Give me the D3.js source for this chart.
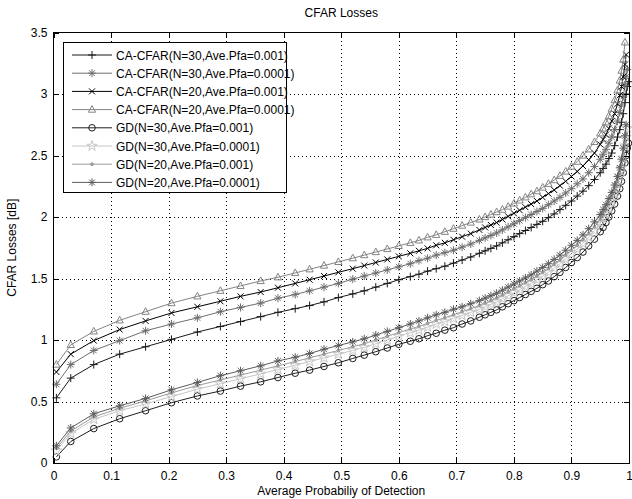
<!DOCTYPE html>
<html>
<head>
<meta charset="utf-8">
<script src="https://cdn.jsdelivr.net/npm/d3@7"></script>
<style>
  html, body { margin: 0; padding: 0; background: #fff; }
  svg { display: block; }
  text { font-family: "Liberation Sans", Arial, Helvetica, sans-serif; fill: #000; }
</style>
</head>
<body>
<svg id="chart" width="632" height="499"></svg>
<script>
// Average probability of detection (shared sample grid)
const pd = [0.005,0.03,0.07,0.115,0.16,0.205,0.25,0.29,0.325,0.36,0.39,0.42,0.445,0.47,0.495,
  0.52,0.54,0.56,0.58,0.60,0.62,0.635,0.65,0.665,0.68,0.695,0.71,0.725,0.74,0.75,0.76,0.77,0.78,0.79,0.80,
  0.81,0.82,0.83,0.84,0.85,0.86,0.87,0.88,0.89,0.90,0.91,0.92,0.93,0.94,0.95,
  0.955,0.96,0.965,0.97,0.975,0.98,0.984,0.987,0.99,0.993,0.995,0.997,0.999];

// CFAR losses [dB]
const caN30Pfa1e3 = [0.53,0.69,0.80,0.885,0.945,1.005,1.065,1.11,1.15,1.19,1.225,1.255,1.28,1.31,1.345,
  1.375,1.40,1.43,1.46,1.49,1.515,1.535,1.56,1.58,1.60,1.625,1.65,1.675,1.705,1.725,1.745,1.765,1.79,1.815,1.84,
  1.865,1.89,1.915,1.94,1.965,1.995,2.025,2.06,2.095,2.13,2.17,2.21,2.255,2.305,2.36,
  2.395,2.43,2.475,2.52,2.58,2.65,2.71,2.77,2.84,2.93,3.00,3.06,3.10];
const caN30Pfa1e4 = [0.64,0.80,0.915,0.995,1.075,1.13,1.18,1.23,1.265,1.30,1.34,1.37,1.40,1.43,1.46,
  1.495,1.52,1.545,1.57,1.595,1.62,1.645,1.665,1.69,1.71,1.73,1.755,1.78,1.81,1.83,1.85,1.87,1.895,1.92,1.945,
  1.97,1.995,2.02,2.045,2.07,2.10,2.13,2.16,2.195,2.23,2.27,2.31,2.36,2.41,2.47,
  2.51,2.55,2.60,2.65,2.71,2.78,2.85,2.91,2.98,3.07,3.14,3.20];
const caN20Pfa1e3 = [0.74,0.885,0.995,1.085,1.155,1.22,1.27,1.315,1.355,1.39,1.425,1.46,1.49,1.52,1.55,
  1.58,1.605,1.63,1.655,1.68,1.705,1.725,1.745,1.77,1.79,1.815,1.84,1.865,1.895,1.915,1.935,1.955,1.98,2.005,2.03,
  2.055,2.08,2.105,2.13,2.16,2.19,2.22,2.255,2.29,2.33,2.37,2.415,2.465,2.52,2.59,
  2.63,2.67,2.72,2.78,2.84,2.92,2.99,3.06,3.14,3.24,3.32];
const caN20Pfa1e4 = [0.80,0.96,1.07,1.16,1.23,1.30,1.355,1.40,1.44,1.48,1.51,1.545,1.575,1.605,1.635,
  1.665,1.69,1.715,1.74,1.765,1.79,1.81,1.835,1.855,1.88,1.905,1.93,1.955,1.98,2.00,2.02,2.04,2.06,2.085,2.11,
  2.135,2.16,2.185,2.21,2.24,2.27,2.30,2.335,2.37,2.41,2.45,2.50,2.55,2.61,2.68,
  2.72,2.77,2.82,2.88,2.95,3.03,3.11,3.19,3.28,3.42];
const gdN30Pfa1e3 = [0.05,0.175,0.28,0.36,0.425,0.49,0.545,0.585,0.625,0.66,0.695,0.73,0.755,0.785,0.815,
  0.85,0.877,0.905,0.935,0.965,0.99,1.01,1.035,1.055,1.08,1.10,1.13,1.155,1.185,1.205,1.225,1.245,1.27,1.295,1.32,
  1.345,1.37,1.395,1.42,1.45,1.48,1.515,1.55,1.59,1.63,1.67,1.715,1.765,1.82,1.88,
  1.915,1.955,2.0,2.05,2.105,2.17,2.23,2.29,2.36,2.44,2.50,2.56,2.60];
const gdN30Pfa1e4 = [0.10,0.24,0.355,0.425,0.48,0.54,0.60,0.645,0.685,0.725,0.76,0.795,0.825,0.855,0.885,
  0.915,0.94,0.97,1.0,1.03,1.06,1.08,1.105,1.13,1.15,1.175,1.20,1.225,1.25,1.27,1.29,1.31,1.335,1.36,1.385,
  1.41,1.435,1.46,1.49,1.52,1.55,1.585,1.62,1.66,1.70,1.74,1.785,1.835,1.89,1.95,
  1.99,2.03,2.08,2.13,2.19,2.26,2.33,2.40,2.48,2.58,2.65,2.72];
const gdN20Pfa1e3 = [0.12,0.26,0.375,0.445,0.505,0.57,0.63,0.675,0.715,0.755,0.79,0.825,0.855,0.885,0.915,
  0.945,0.97,1.0,1.03,1.06,1.09,1.11,1.135,1.16,1.18,1.205,1.23,1.255,1.28,1.30,1.32,1.34,1.365,1.39,1.415,
  1.44,1.465,1.49,1.52,1.55,1.58,1.615,1.65,1.69,1.73,1.77,1.815,1.865,1.92,1.98,
  2.02,2.06,2.11,2.16,2.22,2.29,2.36,2.43,2.51,2.61,2.68];
const gdN20Pfa1e4 = [0.14,0.285,0.40,0.465,0.525,0.595,0.655,0.71,0.75,0.79,0.83,0.86,0.89,0.925,0.955,
  0.985,1.01,1.04,1.07,1.10,1.13,1.155,1.18,1.205,1.225,1.25,1.27,1.295,1.32,1.34,1.36,1.38,1.405,1.43,1.455,
  1.48,1.505,1.53,1.56,1.59,1.62,1.655,1.69,1.73,1.77,1.81,1.855,1.905,1.96,2.02,
  2.06,2.10,2.15,2.20,2.26,2.33,2.40,2.47,2.56,2.66,2.75];

const seriesNames = [
  "CA-CFAR(N=30,Ave.Pfa=0.001)",
  "CA-CFAR(N=30,Ave.Pfa=0.0001)",
  "CA-CFAR(N=20,Ave.Pfa=0.001)",
  "CA-CFAR(N=20,Ave.Pfa=0.0001)",
  "GD(N=30,Ave.Pfa=0.001)",
  "GD(N=30,Ave.Pfa=0.0001)",
  "GD(N=20,Ave.Pfa=0.001)",
  "GD(N=20,Ave.Pfa=0.0001)"
];
const seriesValues = [caN30Pfa1e3, caN30Pfa1e4, caN20Pfa1e3, caN20Pfa1e4,
                      gdN30Pfa1e3, gdN30Pfa1e4, gdN20Pfa1e3, gdN20Pfa1e4];

const xTickValues = [0,0.1,0.2,0.3,0.4,0.5,0.6,0.7,0.8,0.9,1];
const xTickLabels = ["0","0.1","0.2","0.3","0.4","0.5","0.6","0.7","0.8","0.9","1"];
const yTickValues = [0,0.5,1,1.5,2,2.5,3,3.5];
const yTickLabels = ["0","0.5","1","1.5","2","2.5","3","3.5"];

// Styles per series
const seriesColors  = ["#1a1a1a","#6e6e6e","#000000","#848484","#1e1e1e","#c6c6c6","#9c9c9c","#5c5c5c"];
const seriesMarkers = ["plus","star","cross","triangle","circle","pentagram","dot","star"];

// ---- layout ----
const svg = d3.select("#chart");
const plot = { left: 53.5, right: 629, top: 32.5, bottom: 463 };

const x = d3.scaleLinear().domain([0, 1]).range([plot.left, plot.right]);
const y = d3.scaleLinear().domain([0, 3.5]).range([plot.bottom, plot.top]);

// marker glyphs, outline style like MATLAB markers
function markerPath(type) {
  switch (type) {
    case "plus": return "M-4,0H4M0,-4V4";
    case "cross": return "M-3,-3L3,3M-3,3L3,-3";
    case "star": return "M-4,0H4M0,-4V4M-2.9,-2.9L2.9,2.9M-2.9,2.9L2.9,-2.9";
    case "triangle": return "M0,-4L3.6,2.6L-3.6,2.6Z";
    case "circle": return "M3.3,0A3.3,3.3 0 1 1 -3.3,0A3.3,3.3 0 1 1 3.3,0Z";
    case "pentagram": return d3.symbol().type(d3.symbolStar).size(34)();
    case "dot": return "M1.4,0A1.4,1.4 0 1 1 -1.4,0A1.4,1.4 0 1 1 1.4,0Z";
  }
}

// grid lines
const grid = svg.append("g").attr("stroke", "#000").attr("stroke-width", 1)
  .attr("stroke-dasharray", "1,3").attr("shape-rendering", "crispEdges");
grid.selectAll(".gx").data(xTickValues.slice(1, -1)).join("line")
  .attr("x1", d => Math.round(x(d)) + 0.5).attr("x2", d => Math.round(x(d)) + 0.5)
  .attr("y1", plot.top).attr("y2", plot.bottom);
grid.selectAll(".gy").data(yTickValues.slice(1, -1)).join("line")
  .attr("y1", d => Math.round(y(d)) + 0.5).attr("y2", d => Math.round(y(d)) + 0.5)
  .attr("x1", plot.left).attr("x2", plot.right);

// series
const line = d3.line().x((d, i) => x(pd[i])).y(d => y(d));
const seriesG = svg.append("g");
seriesValues.forEach((vals, k) => {
  const g = seriesG.append("g");
  g.append("path").attr("d", line(vals)).attr("fill", "none")
    .attr("stroke", seriesColors[k]).attr("stroke-width", 1);
  const m = seriesMarkers[k];
  const filled = m === "dot";
  g.selectAll("path.mk").data(vals).join("path").attr("class", "mk")
    .attr("transform", (d, i) => `translate(${x(pd[i])},${y(d)})`)
    .attr("d", markerPath(m))
    .attr("fill", filled ? seriesColors[k] : "none")
    .attr("stroke", seriesColors[k]).attr("stroke-width", 1);
});

// axes with inward ticks on all four sides
const fmtX = d => xTickLabels[xTickValues.indexOf(d)];
const fmtY = d => yTickLabels[yTickValues.indexOf(d)];
const axB = svg.append("g").attr("transform", `translate(0,${plot.bottom})`)
  .call(d3.axisBottom(x).tickValues(xTickValues).tickFormat(fmtX).tickSizeInner(-5).tickSizeOuter(0).tickPadding(8));
const axL = svg.append("g").attr("transform", `translate(${plot.left},0)`)
  .call(d3.axisLeft(y).tickValues(yTickValues).tickFormat(fmtY).tickSizeInner(-5).tickSizeOuter(0).tickPadding(6));
const axT = svg.append("g").attr("transform", `translate(0,${plot.top})`)
  .call(d3.axisTop(x).tickValues(xTickValues).tickFormat("").tickSizeInner(-5).tickSizeOuter(0));
const axR = svg.append("g").attr("transform", `translate(${plot.right},0)`)
  .call(d3.axisRight(y).tickValues(yTickValues).tickFormat("").tickSizeInner(-5).tickSizeOuter(0));
[axB, axL, axT, axR].forEach(a => {
  a.select(".domain").remove();
  a.selectAll("line").attr("stroke", "#000").attr("shape-rendering", "crispEdges");
  a.selectAll("text").attr("font-size", 12).attr("font-family", "Liberation Sans, Arial, sans-serif").attr("fill", "#000");
});

// plot frame
svg.append("rect")
  .attr("x", plot.left).attr("y", plot.top)
  .attr("width", plot.right - plot.left).attr("height", plot.bottom - plot.top)
  .attr("fill", "none").attr("stroke", "#000").attr("stroke-width", 1)
  .attr("shape-rendering", "crispEdges");

// titles
svg.append("text").attr("x", (plot.left + plot.right) / 2).attr("y", 17)
  .attr("text-anchor", "middle").attr("font-size", 12).text("CFAR Losses");
svg.append("text").attr("x", (plot.left + plot.right) / 2).attr("y", 495)
  .attr("text-anchor", "middle").attr("font-size", 12).text("Average Probabiliy of Detection");
svg.append("text").attr("transform", `translate(16,${(plot.top + plot.bottom) / 2}) rotate(-90)`)
  .attr("text-anchor", "middle").attr("font-size", 12).text("CFAR Losses [dB]");

// legend
const lg = svg.append("g");
lg.append("rect").attr("x", 63.5).attr("y", 42.5).attr("width", 223).attr("height", 150)
  .attr("fill", "#fff").attr("stroke", "#000").attr("stroke-width", 1).attr("shape-rendering", "crispEdges");
seriesNames.forEach((name, k) => {
  const ry = 55 + k * 18.2;
  const row = lg.append("g");
  row.append("line").attr("x1", 72).attr("x2", 112).attr("y1", ry).attr("y2", ry)
    .attr("stroke", seriesColors[k]).attr("stroke-width", 1);
  row.append("path").attr("transform", `translate(92,${ry})`).attr("d", markerPath(seriesMarkers[k]))
    .attr("fill", seriesMarkers[k] === "dot" ? seriesColors[k] : "none")
    .attr("stroke", seriesColors[k]).attr("stroke-width", 1);
  row.append("text").attr("x", 116).attr("y", ry + 4.5).attr("font-size", 12).text(name);
});
</script>
</body>
</html>
